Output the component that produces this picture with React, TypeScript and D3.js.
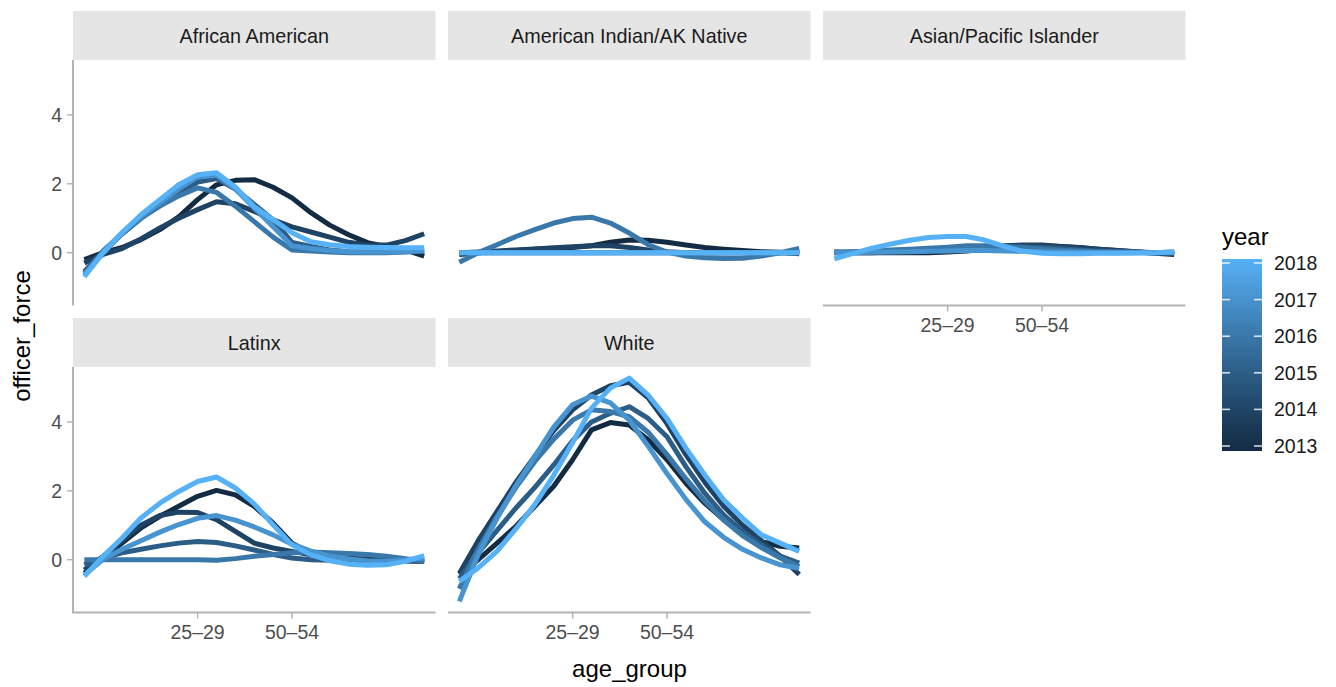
import React from "react";
import * as d3 from "d3";

// Age groups on the x axis (CDC WONDER style buckets)
const ageGroups = [
  "< 1", "1–4", "5–9", "10–14", "15–19", "20–24", "25–29", "30–34", "35–39",
  "40–44", "45–49", "50–54", "55–59", "60–64", "65–69", "70–74", "75–79",
  "80–84", "85+",
];
const xTickLabels = ["25–29", "50–54"];
const years = [2013, 2014, 2015, 2016, 2017, 2018];
const yTicks = [0, 2, 4];
const groups = [
  "African American",
  "American Indian/AK Native",
  "Asian/Pacific Islander",
  "Latinx",
  "White",
];

// officer_force by age group, one row per year (2013 … 2018)
const africanAmerican = [
  [-0.2, 0.0, 0.15, 0.38, 0.67, 1.04, 1.54, 1.97, 2.1, 2.12, 1.9, 1.59, 1.16, 0.8, 0.52, 0.29, 0.17, 0.08, -0.1],
  [-0.3, -0.05, 0.12, 0.4, 0.72, 1.0, 1.25, 1.48, 1.42, 1.2, 0.95, 0.75, 0.6, 0.45, 0.3, 0.22, 0.22, 0.35, 0.55],
  [-0.55, 0.05, 0.55, 1.0, 1.4, 1.72, 2.05, 2.15, 1.85, 1.4, 0.95, 0.3, 0.18, 0.08, 0.03, 0.02, 0.02, 0.04, 0.08],
  [-0.6, 0.0, 0.55, 1.0, 1.35, 1.65, 1.88, 1.75, 1.35, 0.9, 0.45, 0.08, 0.05, 0.02, 0.0, 0.0, 0.0, 0.02, 0.05],
  [-0.65, 0.02, 0.58, 1.05, 1.45, 1.85, 2.2, 2.25, 1.85, 1.3, 0.75, 0.2, 0.12, 0.06, 0.03, 0.02, 0.02, 0.03, 0.06],
  [-0.7, 0.0, 0.58, 1.1, 1.54, 1.97, 2.26, 2.32, 1.91, 1.33, 0.96, 0.58, 0.32, 0.23, 0.18, 0.16, 0.15, 0.14, 0.14],
];
const americanIndian = [
  [-0.05, 0.0, 0.03, 0.06, 0.1, 0.12, 0.15, 0.2, 0.3, 0.37, 0.36, 0.3, 0.22, 0.15, 0.1, 0.06, 0.03, 0.01, -0.03],
  [0.0, 0.02, 0.05, 0.08, 0.11, 0.14, 0.17, 0.2, 0.2, 0.15, 0.08, 0.03, 0.0, 0.0, 0.0, 0.0, 0.0, 0.0, 0.0],
  [0, 0, 0, 0, 0, 0, 0, 0, 0, 0, 0, 0, 0, 0, 0, 0, 0, 0, 0],
  [-0.28, 0.0, 0.23, 0.47, 0.67, 0.86, 0.99, 1.03, 0.86, 0.57, 0.23, 0.02, -0.1, -0.15, -0.17, -0.16, -0.1, 0.0, 0.12],
  [0, 0, 0, 0, 0, 0, 0, 0, 0, 0, 0, 0, 0, 0, 0, 0, 0, 0, 0],
  [0, 0, 0, 0, 0, 0, 0, 0, 0, 0, 0, 0, 0, 0, 0, 0, 0, 0, 0],
];
const asianPacific = [
  [0.02, 0.0, 0.0, 0.0, 0.0, 0.0, 0.02, 0.05, 0.1, 0.15, 0.18, 0.2, 0.18, 0.15, 0.1, 0.06, 0.02, -0.02, -0.05],
  [0.0, 0.0, 0.0, 0.02, 0.03, 0.05, 0.08, 0.12, 0.16, 0.2, 0.22, 0.22, 0.18, 0.14, 0.1, 0.06, 0.03, 0.0, -0.03],
  [0.0, 0.02, 0.04, 0.06, 0.08, 0.1, 0.12, 0.15, 0.17, 0.18, 0.17, 0.15, 0.12, 0.08, 0.05, 0.03, 0.01, 0.0, 0.0],
  [0.02, 0.03, 0.05, 0.08, 0.1, 0.13, 0.16, 0.2, 0.2, 0.18, 0.14, 0.1, 0.07, 0.05, 0.03, 0.02, 0.01, 0.0, 0.02],
  [0.0, 0.0, 0.01, 0.02, 0.03, 0.04, 0.05, 0.06, 0.06, 0.05, 0.04, 0.03, 0.02, 0.01, 0.0, 0.0, 0.0, 0.0, 0.0],
  [-0.18, -0.02, 0.13, 0.25, 0.36, 0.44, 0.47, 0.47, 0.36, 0.18, 0.04, -0.02, -0.03, -0.03, -0.02, -0.02, -0.01, 0.0, 0.03],
];
const latinx = [
  [-0.39, 0.05, 0.48, 0.92, 1.26, 1.55, 1.84, 2.01, 1.88, 1.55, 1.06, 0.48, 0.19, 0.06, 0.0, -0.02, -0.03, -0.02, 0.0],
  [-0.3, 0.1, 0.55, 1.0, 1.28, 1.38, 1.37, 1.16, 0.82, 0.48, 0.34, 0.24, 0.14, 0.08, 0.04, 0.02, 0.0, -0.03, -0.05],
  [-0.15, 0.05, 0.2, 0.3, 0.4, 0.48, 0.53, 0.5, 0.4, 0.28, 0.15, 0.05, 0.0, -0.02, -0.03, -0.03, -0.03, -0.04, -0.05],
  [0.0, 0.0, 0.0, 0.0, 0.0, 0.0, 0.0, -0.02, 0.03, 0.1, 0.15, 0.2, 0.22, 0.2, 0.18, 0.15, 0.1, 0.03, -0.05],
  [-0.45, 0.02, 0.3, 0.55, 0.8, 1.02, 1.2, 1.28, 1.15, 0.95, 0.72, 0.45, 0.25, 0.1, 0.02, -0.04, -0.05, 0.0, 0.05],
  [-0.48, 0.1, 0.63, 1.21, 1.64, 1.98, 2.27, 2.4, 2.08, 1.62, 1.01, 0.43, 0.14, -0.03, -0.13, -0.16, -0.15, -0.05, 0.12],
];
const white = [
  [-0.43, 0.0, 0.48, 0.97, 1.55, 2.13, 2.9, 3.77, 3.98, 3.91, 3.48, 2.9, 2.22, 1.64, 1.16, 0.77, 0.53, 0.39, 0.34],
  [-0.4, 0.55, 1.4, 2.25, 3.0, 3.75, 4.35, 4.78, 5.05, 5.15, 4.7, 3.95, 3.05, 2.25, 1.55, 1.0, 0.55, 0.1, -0.43],
  [-0.55, 0.2, 0.85, 1.5, 2.1, 2.75, 3.45, 4.0, 4.25, 4.44, 4.1, 3.57, 2.7, 1.93, 1.3, 0.82, 0.43, 0.1, -0.1],
  [-0.85, 0.3, 1.25, 2.1, 2.85, 3.5, 4.05, 4.35, 4.3, 4.15, 3.7, 3.05, 2.35, 1.7, 1.15, 0.7, 0.35, 0.05, -0.2],
  [-1.21, 0.15, 1.2, 2.15, 3.0, 3.85, 4.5, 4.75, 4.55, 4.05, 3.3, 2.5, 1.75, 1.1, 0.65, 0.3, 0.05, -0.15, -0.25],
  [-0.63, -0.24, 0.25, 0.9, 1.6, 2.45, 3.4, 4.4, 4.98, 5.27, 4.78, 4.1, 3.24, 2.46, 1.74, 1.21, 0.72, 0.48, 0.24],
];
const panelData = [africanAmerican, americanIndian, asianPacific, latinx, white];

// Facet grid geometry
const FONT = "'Liberation Sans', Arial, Helvetica, sans-serif";
const colX = [73, 448, 823];
const rowStripTop = [11, 318];
const stripH = 49;
const panelW = 362.5;
const panelH = 245.5;
const axisColor = "#b3b3b3";

const allValues = panelData.flat(2);
const [vMin, vMax] = d3.extent(allValues) as [number, number];
const pad = (vMax - vMin) * 0.05;

const color = d3
  .scaleLinear<string>()
  .domain([years[0], years[years.length - 1]])
  .range(["#132B43", "#56B1F7"])
  .interpolate(d3.interpolateLab);

function Panel({ index }: { index: number }) {
  const col = index % 3;
  const row = Math.floor(index / 3);
  const x0 = colX[col];
  const stripTop = rowStripTop[row];
  const top = stripTop + stripH;
  const bottom = top + panelH;
  const x = d3
    .scalePoint<string>()
    .domain(ageGroups)
    .range([x0, x0 + panelW])
    .padding(0.6);
  const y = d3.scaleLinear().domain([vMin - pad, vMax + pad]).range([bottom, top]);
  const line = d3
    .line<number>()
    .x((_, i) => x(ageGroups[i]) as number)
    .y((d) => y(d));
  const showY = col === 0;
  const showX = row === 1 || index === 2;
  const rows = panelData[index];
  return (
    <g>
      <rect x={x0} y={stripTop} width={panelW} height={stripH} fill="#e5e5e5" />
      <text
        x={x0 + panelW / 2}
        y={stripTop + stripH / 2 + 7}
        textAnchor="middle"
        fontSize={19.8}
        fill="#1a1a1a"
      >
        {groups[index]}
      </text>
      {rows.map((vals, k) => (
        <path
          key={years[k]}
          d={line(vals) ?? ""}
          fill="none"
          stroke={color(years[k])}
          strokeWidth={5}
          strokeLinejoin="round"
        />
      ))}
      {showY && (
        <g>
          <line x1={x0} x2={x0} y1={top} y2={bottom} stroke={axisColor} strokeWidth={2} />
          {yTicks.map((t) => (
            <g key={t}>
              <line x1={x0 - 6} x2={x0} y1={y(t)} y2={y(t)} stroke={axisColor} strokeWidth={1.5} />
              <text
                x={x0 - 11}
                y={y(t) + 7}
                textAnchor="end"
                fontSize={19.5}
                fill="#4d4d4d"
              >
                {t}
              </text>
            </g>
          ))}
        </g>
      )}
      {showX && (
        <g>
          <line x1={x0 - (showY ? 1 : 0)} x2={x0 + panelW} y1={bottom} y2={bottom} stroke={axisColor} strokeWidth={2} />
          {xTickLabels.map((t) => (
            <g key={t}>
              <line
                x1={x(t)}
                x2={x(t)}
                y1={bottom}
                y2={bottom + 6}
                stroke={axisColor}
                strokeWidth={1.5}
              />
              <text
                x={x(t)}
                y={bottom + 26}
                textAnchor="middle"
                fontSize={19.5}
                fill="#4d4d4d"
              >
                {t}
              </text>
            </g>
          ))}
        </g>
      )}
    </g>
  );
}

function Legend() {
  const bx = 1222;
  const bw = 40;
  const bTop = 259;
  const bBottom = 451;
  const ty = d3.scaleLinear().domain([years[0], years[years.length - 1]]).range([446, 263]);
  const stops = d3.range(0, 11).map((i) => i / 10);
  return (
    <g>
      <defs>
        <linearGradient id="yearGrad" x1="0" y1="1" x2="0" y2="0">
          {stops.map((s) => (
            <stop
              key={s}
              offset={s}
              stopColor={color(years[0] + s * (years[years.length - 1] - years[0]))}
            />
          ))}
        </linearGradient>
      </defs>
      <text x={bx} y={245} fontSize={24} fill="#000">
        year
      </text>
      <rect x={bx} y={bTop} width={bw} height={bBottom - bTop} fill="url(#yearGrad)" />
      {years.map((yr) => (
        <g key={yr}>
          <line x1={bx} x2={bx + 8} y1={ty(yr)} y2={ty(yr)} stroke="#fff" strokeOpacity={0.85} strokeWidth={1.5} />
          <line x1={bx + bw - 8} x2={bx + bw} y1={ty(yr)} y2={ty(yr)} stroke="#fff" strokeOpacity={0.85} strokeWidth={1.5} />
          <text x={bx + bw + 12} y={ty(yr) + 7} fontSize={19.5} fill="#1a1a1a">
            {yr}
          </text>
        </g>
      ))}
    </g>
  );
}

export default function App() {
  return (
    <svg
      width={1336}
      height={687}
      style={{ position: "absolute", left: 0, top: 0, background: "#fff" }}
      fontFamily={FONT}
    >
      <rect width={1336} height={687} fill="#fff" />
      {groups.map((g, i) => (
        <Panel key={g} index={i} />
      ))}
      <text x={629.5} y={677} textAnchor="middle" fontSize={24} fill="#000">
        age_group
      </text>
      <text transform="translate(30,336) rotate(-90)" textAnchor="middle" fontSize={24} fill="#000">
        officer_force
      </text>
      <Legend />
    </svg>
  );
}
